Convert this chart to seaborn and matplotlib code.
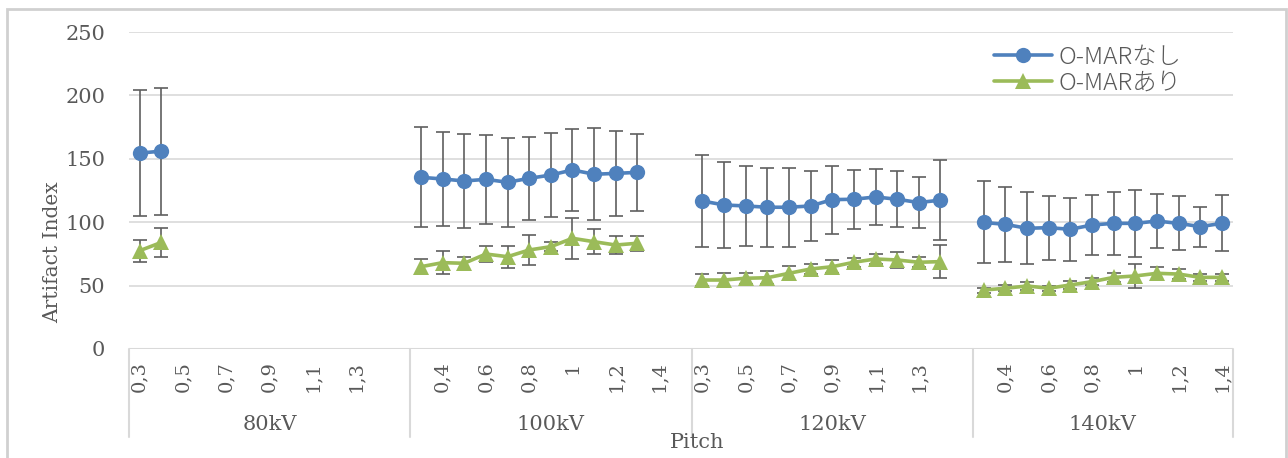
import numpy as np
import pandas as pd
import matplotlib
matplotlib.use("Agg")
import matplotlib.pyplot as plt
from matplotlib.lines import Line2D
from matplotlib.patches import Rectangle
import seaborn as sns

# ---- data -------------------------------------------------------------
groups = ["80kV", "100kV", "120kV", "140kV"]
pitch_labels = ["0,3", "0,4", "0,5", "0,6", "0,7", "0,8", "0,9",
                "1", "1,1", "1,2", "1,3", "1,4"]
# number of category slots per group (first three carry one empty slot)
group_slots = [13, 13, 13, 12]

series_names = ["O-MARなし", "O-MARあり"]

nashi_80 = [154.5, 156.0]
nashi_80_sd = [49.5, 50.0]
ari_80 = [77.5, 84.0]
ari_80_sd = [8.5, 11.5]

nashi_100 = [135.4, 134.1, 132.5, 133.8, 131.5, 134.6, 137.2, 141.2, 137.8, 138.5, 139.3]
nashi_100_sd = [39.3, 37.4, 36.8, 35.3, 34.9, 32.6, 33.4, 32.1, 36.1, 33.7, 30.3]
ari_100 = [64.9, 68.1, 67.6, 74.9, 72.8, 78.1, 80.7, 87.3, 84.6, 82.0, 83.4]
ari_100_sd = [5.9, 8.9, 5.3, 6.6, 8.6, 11.5, 3.5, 16.1, 9.9, 7.0, 6.0]

nashi_120 = [116.7, 113.6, 112.8, 111.8, 111.8, 112.8, 117.8, 118.1, 119.9, 118.1, 115.5, 117.4]
nashi_120_sd = [36.2, 33.9, 31.2, 31.3, 31.1, 27.6, 26.9, 23.2, 22.3, 22.1, 20.4, 31.6]
ari_120 = [54.4, 54.4, 55.8, 56.2, 59.7, 63.1, 64.9, 68.4, 71.0, 70.2, 68.4, 68.9]
ari_120_sd = [4.5, 5.5, 4.5, 5.0, 5.5, 4.0, 5.0, 3.5, 4.0, 6.0, 4.0, 13.2]

nashi_140 = [99.8, 98.3, 95.2, 95.7, 94.4, 97.8, 99.1, 99.1, 100.9, 99.1, 96.5, 99.1]
nashi_140_sd = [32.3, 29.3, 28.4, 25.3, 24.9, 23.6, 24.6, 26.5, 21.1, 21.3, 15.8, 22.0]
ari_140 = [46.5, 47.9, 49.7, 47.9, 50.5, 53.1, 56.5, 57.6, 59.7, 59.1, 56.5, 56.5]
ari_140_sd = [2.0, 2.5, 3.0, 2.0, 3.0, 3.0, 3.5, 9.2, 5.0, 4.0, 3.0, 3.0]

y_ticks = [0, 50, 100, 150, 200, 250]

nashi = [nashi_80, nashi_100, nashi_120, nashi_140]
nashi_sd = [nashi_80_sd, nashi_100_sd, nashi_120_sd, nashi_140_sd]
ari = [ari_80, ari_100, ari_120, ari_140]
ari_sd = [ari_80_sd, ari_100_sd, ari_120_sd, ari_140_sd]

# ---- build category positions and long-form table ----------------------
starts = np.concatenate([[0], np.cumsum(group_slots)[:-1]])
rows = []
for gi, (g, start) in enumerate(zip(groups, starts)):
    for name, vals, sds in [(series_names[0], nashi[gi], nashi_sd[gi]),
                            (series_names[1], ari[gi], ari_sd[gi])]:
        for k, (v, s) in enumerate(zip(vals, sds)):
            rows.append({"pos": start + k, "value": v, "sd": s,
                         "series": name, "group": g})
df = pd.DataFrame(rows)

tick_text = []
for n in group_slots:
    tick_text += [pitch_labels[k] if k < len(pitch_labels) else "" for k in range(n)]
n_slots = len(tick_text)

# ---- style ------------------------------------------------------------
sns.set_theme(style="white")
plt.rcParams["font.family"] = ["DejaVu Serif"]
text_color = "#595959"
grid_color = "#d9d9d9"
palette = {series_names[0]: "#4F81BD", series_names[1]: "#9BBB59"}
markers = {series_names[0]: "o", series_names[1]: "^"}

W, H = 1288, 458
fig = plt.figure(figsize=(W / 100, H / 100), dpi=100)
left, right, top, bottom = 128.7, 1232.7, 32, 349
ax = fig.add_axes([left / W, 1 - bottom / H, (right - left) / W, (bottom - top) / H])

# outer chart frame
fig.patches.append(Rectangle((7 / W, -0.01), 1279 / W, 1 - 9 / H + 0.01,
                             transform=fig.transFigure, fill=False,
                             edgecolor="#d0d0d0", lw=2, zorder=0))

# error bars (behind the lines)
for name in series_names:
    sub = df[df["series"] == name]
    ax.errorbar(sub["pos"], sub["value"], yerr=sub["sd"], fmt="none",
                ecolor="#5f5f5f", elinewidth=1.2, capsize=4.7, capthick=1.2,
                zorder=2)

sns.lineplot(data=df, x="pos", y="value", hue="series", style="series",
             units="group", estimator=None, palette=palette, markers=markers,
             dashes=False, linewidth=2.6, markersize=11, markeredgewidth=0,
             legend=False, ax=ax, zorder=3)

# axes
ax.set_xlim(-0.5, n_slots - 0.5)
ax.set_ylim(0, 250)
ax.set_yticks(y_ticks)
ax.set_yticklabels([str(t) for t in y_ticks], fontsize=15, color=text_color)
ax.yaxis.grid(True, color=grid_color, lw=1.2)
ax.set_axisbelow(True)
for s in ax.spines.values():
    s.set_visible(False)
ax.axhline(0, color=grid_color, lw=1.5, zorder=1)

ax.set_xticks(range(0, n_slots, 2))
ax.set_xticklabels([tick_text[i] for i in range(0, n_slots, 2)], rotation=90,
                   fontsize=14, color=text_color, va="top", ha="center")
ax.tick_params(axis="x", length=0, pad=9)
ax.tick_params(axis="y", length=0, pad=17)
ax.set_xlabel("")
ax.set_ylabel("Artifact Index", fontsize=14.5, color=text_color)
ph = bottom - top
pw = right - left
ax.yaxis.set_label_coords((62 - left) / pw, (bottom - 252) / ph)

# multi-level category axis: group separators and group names
sep_depth = (437 - bottom) / ph
bounds = np.concatenate([[0], np.cumsum(group_slots)]) - 0.5
trans = ax.get_xaxis_transform()
for b in bounds:
    ax.plot([b, b], [0, -sep_depth], transform=trans, color=grid_color,
            lw=1.5, clip_on=False)
for g, a, b in zip(groups, bounds[:-1], bounds[1:]):
    ax.text((a + b) / 2, -(424 - bottom) / ph, g, transform=trans,
            ha="center", va="center", fontsize=15, color=text_color)

fig.text(697 / W, 1 - 443 / H, "Pitch", ha="center", va="center",
         fontsize=15, color=text_color)

# legend
handles = [Line2D([], [], color=palette[n], marker=markers[n], lw=2.6,
                  markersize=11, markeredgewidth=0) for n in series_names]
leg = ax.legend(handles, series_names, loc="upper left",
                bbox_to_anchor=(994 / W, 1 - 45 / H), bbox_transform=fig.transFigure,
                frameon=False, handlelength=2.4, handletextpad=0.25,
                labelspacing=0.02, borderpad=0, borderaxespad=0,
                prop={"family": ["Noto Sans CJK JP", "DejaVu Sans"], "size": 17.5,
                      "weight": "light"})
for t in leg.get_texts():
    t.set_color(text_color)

fig.savefig("out.png", dpi=100, facecolor="white")
